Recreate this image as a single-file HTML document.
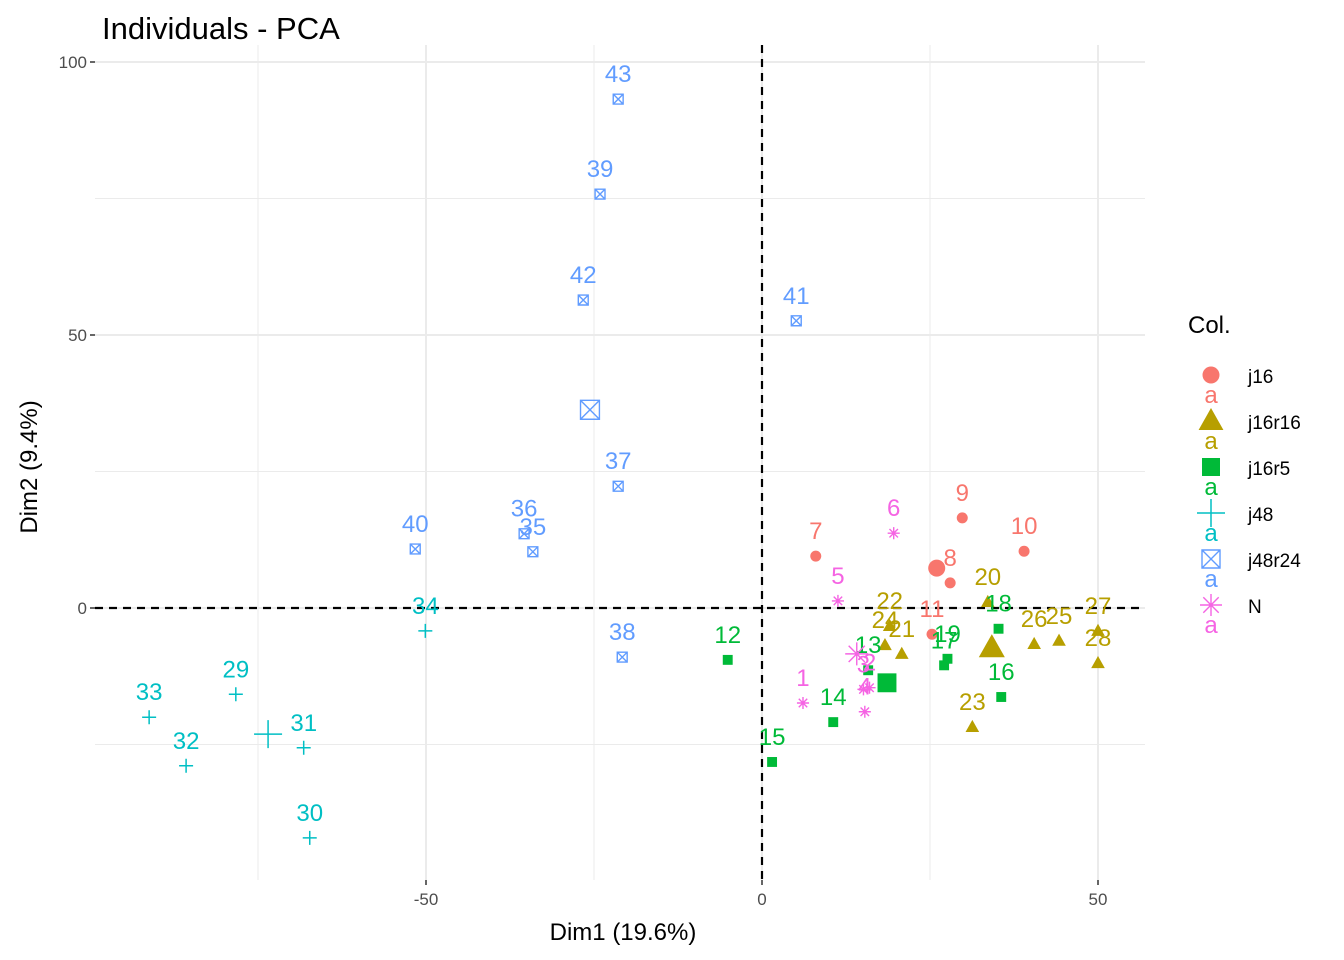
<!DOCTYPE html>
<html><head><meta charset="utf-8"><style>
html,body{margin:0;padding:0;background:#fff;}
svg{display:block;font-family:"Liberation Sans",Arial,sans-serif;}
</style></head><body>
<svg id="chart" width="1344" height="960" viewBox="0 0 1344 960" xmlns="http://www.w3.org/2000/svg">
<text x="102" y="39" font-size="31" fill="#000">Individuals - PCA</text>
<g id="grid"></g>
<g id="marks"></g>
<g id="axes"></g>
<text x="623" y="940" font-size="24" text-anchor="middle">Dim1 (19.6%)</text>
<text transform="translate(37,467) rotate(-90)" font-size="24" text-anchor="middle">Dim2 (9.4%)</text>
<g id="legend"></g>
</svg>
<script>
const groups = ["j16","j16r16","j16r5","j48","j48r24","N"];
const colors = ["#F8766D","#B79F00","#00BA38","#00BFC4","#619CFF","#F564E3"];
const ptLabels = ["7","9","10","8","11","22","24","21","20","26","25","27","28","23","12","14","15","13","19","17","18","16","34","29","33","31","32","30","43","39","42","41","37","40","36","35","38","6","5","1","2","3","4"];
const ptGroup = [0,0,0,0,0,1,1,1,1,1,1,1,1,1,2,2,2,2,2,2,2,2,3,3,3,3,3,3,4,4,4,4,4,4,4,4,4,5,5,5,5,5,5];
const ptX = [8.0,29.8,39.0,28.0,25.3,19.0,18.3,20.8,33.6,40.5,44.2,50,50,31.3,-5.1,10.6,1.5,15.8,27.6,27.1,35.2,35.6,-50.1,-78.3,-91.2,-68.2,-85.7,-67.3,-21.4,-24.1,-26.6,5.1,-21.4,-51.6,-35.4,-34.1,-20.8,19.6,11.3,6.1,16.0,15.1,15.3];
const ptY = [9.5,16.5,10.4,4.6,-4.8,-3.3,-6.8,-8.4,1.1,-6.6,-6.0,-4.2,-10.1,-21.8,-9.5,-20.9,-28.2,-11.4,-9.3,-10.5,-3.8,-16.3,-4.2,-15.8,-20.0,-25.6,-28.9,-42.1,93.2,75.8,56.4,52.6,22.3,10.8,13.6,10.3,-9.0,13.7,1.3,-17.4,-14.6,-14.9,-19.0];
const cenX = [26.0,34.2,18.6,-73.5,-25.6,14.1];
const cenY = [7.3,-7.3,-13.7,-23.1,36.3,-8.4];
const xTicks = [-50,0,50];
const yTicks = [0,50,100];
const xMinor = [-75,-25,25];
const yMinor = [-25,25,75];
const NS="http://www.w3.org/2000/svg";
const X = v => 762 + v*6.72;
const Y = v => 608 - v*5.46;
const PL=95, PR=1145, PT=45, PB=880;
function mk(tag, attrs, parent){const e=document.createElementNS(NS,tag);for(const k in attrs)e.setAttribute(k,attrs[k]);parent.appendChild(e);return e;}
const grid=document.getElementById('grid'), marks=document.getElementById('marks'), axes=document.getElementById('axes'), legend=document.getElementById('legend');
xMinor.forEach(v=>{const l=mk('line',{x1:X(v),x2:X(v),y1:PT,y2:PB,stroke:'#EBEBEB','stroke-width':1},grid);});
yMinor.forEach(v=>{const l=mk('line',{x1:PL,x2:PR,y1:Y(v),y2:Y(v),stroke:'#EBEBEB','stroke-width':1},grid);});
xTicks.forEach(v=>{const l=mk('line',{x1:X(v),x2:X(v),y1:PT,y2:PB,stroke:'#EBEBEB','stroke-width':2},grid);
 const t=mk('line',{x1:X(v),x2:X(v),y1:PB,y2:PB+5,stroke:'#333','stroke-width':1.5},axes);
 const tx=mk('text',{x:X(v),y:905,'font-size':17,fill:'#4d4d4d','text-anchor':'middle'},axes);tx.textContent=v;});
yTicks.forEach(v=>{const l=mk('line',{x1:PL,x2:PR,y1:Y(v),y2:Y(v),stroke:'#EBEBEB','stroke-width':2},grid);
 const t=mk('line',{x1:PL-5,x2:PL,y1:Y(v),y2:Y(v),stroke:'#333','stroke-width':1.5},axes);
 const tx=mk('text',{x:PL-8,y:Y(v)+6,'font-size':17,fill:'#4d4d4d','text-anchor':'end'},axes);tx.textContent=v;});
const h=mk('line',{x1:PL,x2:PR,y1:Y(0),y2:Y(0),stroke:'#000','stroke-width':2.2,'stroke-dasharray':'8,6'},grid);
const vl=mk('line',{x1:X(0),x2:X(0),y1:PT,y2:PB,stroke:'#000','stroke-width':2.2,'stroke-dasharray':'8,6'},grid);
function shape(g,cx,cy,s,parent){const c=colors[g];const gr=mk('g',{},parent);
 if(g===0)mk('circle',{cx:cx,cy:cy,r:s*0.5,fill:c},gr);
 else if(g===1)mk('polygon',{points:`${cx},${cy-s*0.65} ${cx-s*0.62},${cy+s*0.45} ${cx+s*0.62},${cy+s*0.45}`,fill:c},gr);
 else if(g===2)mk('rect',{x:cx-s*0.45,y:cy-s*0.45,width:s*0.9,height:s*0.9,fill:c},gr);
 else if(g===3){mk('path',{d:`M${cx-s*0.5},${cy}H${cx+s*0.5}M${cx},${cy-s*0.5}V${cy+s*0.5}`,stroke:c,'stroke-width':1.5,fill:'none'},gr);}
 else if(g===4){const a=s*0.45;mk('path',{d:`M${cx-a},${cy-a}h${2*a}v${2*a}h${-2*a}zM${cx-a},${cy-a}L${cx+a},${cy+a}M${cx+a},${cy-a}L${cx-a},${cy+a}`,stroke:c,'stroke-width':1.4,fill:'none'},gr);}
 else {const a=s*0.55,b=a*0.7;mk('path',{d:`M${cx-a},${cy}H${cx+a}M${cx},${cy-a}V${cy+a}M${cx-b},${cy-b}L${cx+b},${cy+b}M${cx+b},${cy-b}L${cx-b},${cy+b}`,stroke:c,'stroke-width':1.4,fill:'none'},gr);}
 return gr;}
ptX.forEach((v,i)=>{const g=ptGroup[i];const px=X(v),py=Y(ptY[i]);
 const m=shape(g,px,py,g===3?14:11,marks);
 const t=mk('text',{x:px,y:py-17,'font-size':24,fill:colors[g],'text-anchor':'middle'},marks);t.textContent=ptLabels[i];});
cenX.forEach((v,i)=>{const m=shape(i,X(v),Y(cenY[i]),i===3?28:(i===0?17:21),marks);});
const lt=mk('text',{x:1188,y:333,'font-size':24},legend);lt.textContent='Col.';
groups.forEach((g,i)=>{const y=375+i*46;const m=shape(i,1211,y,i===3?28:(i===0?17:20),legend);
 const a=mk('text',{x:1211,y:y+28,'font-size':24,fill:colors[i],'text-anchor':'middle'},legend);a.textContent='a';
 const t=mk('text',{x:1248,y:y+8,'font-size':19},legend);t.textContent=g;});
</script>
</body></html>
